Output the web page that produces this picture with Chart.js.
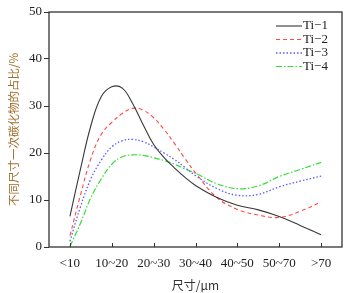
<!DOCTYPE html>
<html>
<head>
<meta charset="utf-8">
<script src="https://cdn.jsdelivr.net/npm/chart.js@4.4.1/dist/chart.umd.min.js"></script>
<style>
  html, body { margin: 0; padding: 0; background: #fff; }
  canvas { display: block; }
</style>
</head>
<body>
<canvas id="chart" width="351" height="293"></canvas>
<script>
// categorías del eje x
const sizeLabels = ['<10', '10~20', '20~30', '30~40', '40~50', '50~70', '>70'];
// posiciones (índice de categoría) donde se leyeron las curvas
const xPos = [0, 0.25, 0.5, 0.75, 1, 1.25, 1.5, 1.75, 2, 2.25, 2.5, 2.75, 3, 3.5, 4, 4.5, 5, 5.5, 6];

const ti1 = [6.5, 16.5, 25.8, 32.0, 34.1, 33.8, 30.5, 26.0, 21.8, 19.0, 16.8, 14.8, 13.1, 10.6, 8.9, 7.9, 6.5, 4.6, 2.6];
const ti2 = [2.4, 11.0, 18.8, 24.0, 26.5, 28.4, 29.5, 29.1, 27.5, 25.0, 22.0, 18.8, 15.8, 10.6, 8.0, 6.8, 6.3, 7.6, 9.6];
const ti3 = [1.2, 8.5, 14.5, 18.5, 21.3, 22.6, 22.9, 22.4, 21.3, 20.0, 18.6, 16.9, 15.2, 12.5, 11.0, 11.2, 12.8, 14.0, 15.1];
const ti4 = [0.1, 5.0, 10.5, 14.5, 17.6, 19.2, 19.6, 19.5, 19.0, 18.4, 17.6, 16.6, 15.7, 13.5, 12.4, 13.0, 15.0, 16.5, 18.0];

const seriesNames = ['Ti\u22121', 'Ti\u22122', 'Ti\u22123', 'Ti\u22124'];
const yTicks = [0, 10, 20, 30, 40, 50];

const serif = '"Liberation Serif", "DejaVu Serif", serif';
const cjk = '"Noto Sans CJK SC", sans-serif';

function toPoints(values) {
    return values.map((v, i) => ({ x: xPos[i], y: v }));
}

const styles = [
    { color: '#383838', dash: [], width: 1.1 },
    { color: '#ff4a4a', dash: [4, 3], width: 1.1 },
    { color: '#5a5aff', dash: [1.5, 2], width: 1.3 },
    { color: '#33dd33', dash: [6, 2, 1.5, 2], width: 1.2 }
];

const datasets = [ti1, ti2, ti3, ti4].map((vals, i) => ({
    label: seriesNames[i],
    data: toPoints(vals),
    borderColor: styles[i].color,
    borderDash: styles[i].dash,
    borderWidth: styles[i].width,
    pointRadius: 0,
    fill: false,
    tension: 0.4
}));

// marco, ticks interiores en x y leyenda dentro del área
const framePlugin = {
    id: 'frame',
    afterDraw(chart) {
        const ctx = chart.ctx;
        const a = chart.chartArea;
        const xs = chart.scales.x;
        ctx.save();
        ctx.strokeStyle = '#333';
        ctx.lineWidth = 1.3;
        ctx.setLineDash([]);
        ctx.strokeRect(a.left, a.top, a.right - a.left, a.bottom - a.top);
        ctx.lineWidth = 1;
        sizeLabels.forEach((_, i) => {
            const px = Math.round(xs.getPixelForValue(i)) + 0.5;
            ctx.beginPath();
            ctx.moveTo(px, a.bottom);
            ctx.lineTo(px, a.bottom - 4);
            ctx.stroke();
        });

        // leyenda
        const lx = a.right - 66;
        const rows = [14, 27.5, 41, 54.5];
        ctx.font = '13px ' + serif;
        ctx.textBaseline = 'middle';
        ctx.fillStyle = '#222';
        chart.data.datasets.forEach((ds, i) => {
            const y = a.top + rows[i];
            ctx.strokeStyle = ds.borderColor;
            ctx.lineWidth = ds.borderWidth;
            ctx.setLineDash(ds.borderDash);
            ctx.beginPath();
            ctx.moveTo(lx, y);
            ctx.lineTo(lx + 26, y);
            ctx.stroke();
            ctx.setLineDash([]);
            ctx.fillText(ds.label, lx + 27, y);
        });
        ctx.restore();
    }
};

new Chart(document.getElementById('chart'), {
    type: 'line',
    data: { datasets: datasets },
    options: {
        responsive: false,
        animation: false,
        layout: { padding: { top: 12, right: 9, left: 0, bottom: 0 } },
        plugins: {
            legend: { display: false },
            tooltip: { enabled: false }
        },
        scales: {
            x: {
                type: 'linear',
                min: -0.5,
                max: 6.5,
                afterBuildTicks(scale) {
                    scale.ticks = sizeLabels.map((_, i) => ({ value: i }));
                },
                afterFit(scale) { scale.height = 46; },
                ticks: {
                    autoSkip: false,
                    maxRotation: 0,
                    padding: 9,
                    color: '#222',
                    font: { family: serif, size: 13 },
                    callback: (v) => sizeLabels[v]
                },
                grid: { display: false, drawTicks: false },
                border: { display: false },
                title: {
                    display: true,
                    text: '尺寸/μm',
                    color: '#333',
                    font: { family: cjk, size: 12 },
                    padding: { top: 2, bottom: 0 }
                }
            },
            y: {
                min: 0,
                max: 50,
                afterBuildTicks(scale) {
                    scale.ticks = yTicks.map(v => ({ value: v }));
                },
                afterFit(scale) { scale.width = 49; },
                ticks: {
                    padding: 2,
                    color: '#222',
                    font: { family: serif, size: 13 }
                },
                grid: {
                    drawOnChartArea: false,
                    drawTicks: true,
                    tickLength: 5,
                    color: '#333'
                },
                border: { display: false },
                title: {
                    display: true,
                    text: '不同尺寸一次碳化物的占比/%',
                    color: '#a0702e',
                    font: { family: cjk, size: 11.5 },
                    padding: { top: 7, bottom: 0 }
                }
            }
        }
    },
    plugins: [framePlugin]
});
</script>
</body>
</html>
